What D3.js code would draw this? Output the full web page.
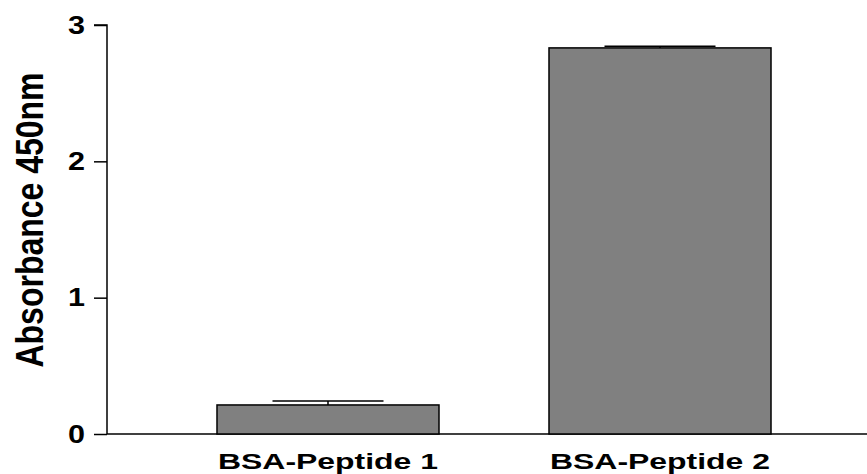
<!DOCTYPE html>
<html>
<head>
  <meta charset="utf-8">
  <script src="https://d3js.org/d3.v7.min.js"></script>
  <style>
    body { margin: 0; background: #fff; }
    svg { display: block; }
    text { font-family: "Liberation Sans", Arial, sans-serif; font-weight: bold; fill: #000; }
  </style>
</head>
<body>
<svg id="chart"></svg>
<script>
// data
var categories = ["BSA-Peptide 1", "BSA-Peptide 2"];
var means = [0.213, 2.832];
var errors = [0.029, 0.012];
var yTicks = [0, 1, 2, 3];
var yLabel = "Absorbance 450nm";

var W = 867, H = 474;
var svg = d3.select("#chart").attr("width", W).attr("height", H);

var axisX = 107, baseY = 434, topY = 25;

var y = d3.scaleLinear().domain([0, 3]).range([baseY, topY]);

// band layout: step 332, bar width 222
var x = d3.scaleBand()
  .domain(categories)
  .range([axisX, 881])
  .paddingInner(0.3313)
  .paddingOuter(0.3313);

var data = categories.map(function (c, i) {
  return { name: c, value: means[i], err: errors[i] };
});

// y axis
var yAxis = svg.append("g")
  .attr("transform", "translate(" + axisX + ",0)")
  .call(d3.axisLeft(y).tickValues(yTicks).tickFormat(d3.format("d")).tickSize(13).tickPadding(9));
yAxis.select(".domain").attr("stroke", "#000").attr("stroke-width", 1.5)
  .attr("d", "M-13," + y(3) + "H0V" + baseY);
yAxis.selectAll(".tick line").attr("stroke", "#000").attr("stroke-width", 1.5);
yAxis.selectAll(".tick text")
  .style("font-size", "26px").style("font-weight", "bold")
  .attr("textLength", 17)
  .attr("lengthAdjust", "spacingAndGlyphs")
  .attr("font-family", null);

// baseline across the plot
svg.append("line")
  .attr("x1", axisX).attr("x2", W)
  .attr("y1", baseY).attr("y2", baseY)
  .attr("stroke", "#000").attr("stroke-width", 1.5);

// error bars (upper half only, drawn behind bars)
var eb = svg.selectAll(".err").data(data).enter().append("g").attr("class", "err");
eb.append("line")
  .attr("x1", function (d) { return x(d.name) + x.bandwidth() / 2; })
  .attr("x2", function (d) { return x(d.name) + x.bandwidth() / 2; })
  .attr("y1", function (d) { return y(d.value); })
  .attr("y2", function (d) { return y(d.value + d.err); })
  .attr("stroke", "#000").attr("stroke-width", 1.5);
eb.append("line")
  .attr("x1", function (d) { return x(d.name) + x.bandwidth() / 4; })
  .attr("x2", function (d) { return x(d.name) + x.bandwidth() * 3 / 4; })
  .attr("y1", function (d) { return y(d.value + d.err); })
  .attr("y2", function (d) { return y(d.value + d.err); })
  .attr("stroke", "#000").attr("stroke-width", 1.5);

// bars
svg.selectAll(".bar").data(data).enter().append("rect")
  .attr("class", "bar")
  .attr("x", function (d) { return x(d.name); })
  .attr("y", function (d) { return y(d.value); })
  .attr("width", x.bandwidth())
  .attr("height", function (d) { return baseY - y(d.value); })
  .attr("fill", "#808080")
  .attr("stroke", "#000")
  .attr("stroke-width", 1.5);

// category labels
svg.selectAll(".cat").data(data).enter().append("text")
  .attr("class", "cat")
  .attr("x", function (d) { return x(d.name) + x.bandwidth() / 2; })
  .attr("y", 469)
  .attr("text-anchor", "middle")
  .attr("textLength", 220)
  .attr("lengthAdjust", "spacingAndGlyphs")
  .style("font-size", "22px")
  .text(function (d) { return d.name; });

// y label
svg.append("text")
  .attr("transform", "translate(43,220) rotate(-90)")
  .attr("text-anchor", "middle")
  .attr("textLength", 295)
  .attr("lengthAdjust", "spacingAndGlyphs")
  .style("font-size", "38px")
  .text(yLabel);
</script>
</body>
</html>
